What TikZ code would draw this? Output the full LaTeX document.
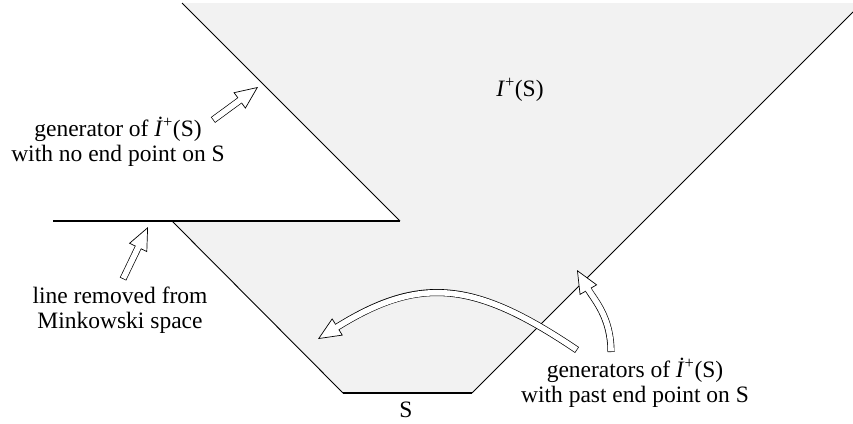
\documentclass[tikz,border=0pt]{standalone}
\usepackage{fontspec}
\setmainfont{Liberation Serif}
\newfontfamily\timesfont{Liberation Serif}
\usetikzlibrary{arrows.meta, positioning}

\begin{document}
\begin{tikzpicture}[x=1pt, y=-1pt,
    txt/.style={align=center, font=\timesfont\fontsize{23.5}{25.5}\selectfont, inner sep=0pt},
    edge/.style={line width=0.9pt},
    cut/.style={line width=2.6pt},
    hollow/.style={draw=black, line width=7pt,
        -{Triangle[fill=white, line width=0.7pt, length=23pt, width=20pt]},
        postaction={draw=white, line width=5.6pt, -, shorten >=21pt, shorten <=0.7pt}}
]
    \useasboundingbox (0,0) rectangle (853,423);

    % Corners of the region
    \coordinate (ul) at (182,3);
    \coordinate (ut) at (853,3);
    \coordinate (ur) at (853,12);
    \coordinate (tip) at (400,221);
    \coordinate (rl) at (53,221);
    \coordinate (cl) at (172,221);
    \coordinate (sl) at (343,393);
    \coordinate (sr) at (472,393);

    % Region I+(S)
    \fill[gray!10] (ul) -- (ut) -- (ur) -- (sr) -- (sl) -- (cl) -- (tip) -- cycle;
    \draw[edge] (ul) -- (tip);
    \draw[edge] (cl) -- (sl);
    \draw[edge] (sr) -- (ur);
    \draw[cut] (rl) -- (tip);
    \draw[cut] (sl) -- (sr);

    % Labels
    \node[txt] (iplus) at (520,90) {\textit{I}\textsuperscript{+}(S)};
    \node[txt] (gen) at (118,142) {generator of \textit{İ}\textsuperscript{+}(S)\\with no end point on S};
    \node[txt] (removed) at (120,310) {line removed from\\Minkowski space};
    \node[txt] (gens) at (635,383) {generators of \textit{İ}\textsuperscript{+}(S)\\with past end point on S};
    \node[txt] (S) at (406,410) {S};

    % Arrow ends
    \coordinate (gentail) at (213,120);
    \coordinate (genhead) at (258,87);
    \coordinate (remtail) at (123,279);
    \coordinate (remhead) at (148,227);
    \coordinate (longtail) at (577,350);
    \coordinate (longhead) at (318,339);
    \coordinate (shorttail) at (611,352);
    \coordinate (shorthead) at (577,270);

    % Arrows
    \draw[hollow] (gentail) -- (genhead);
    \draw[hollow] (remtail) -- (remhead);
    \draw[hollow] (longtail) to[out=146, in=32, looseness=1.2] (longhead);
    \draw[hollow] (shorttail) to[out=90, in=-60] (shorthead);

\end{tikzpicture}
\end{document}
